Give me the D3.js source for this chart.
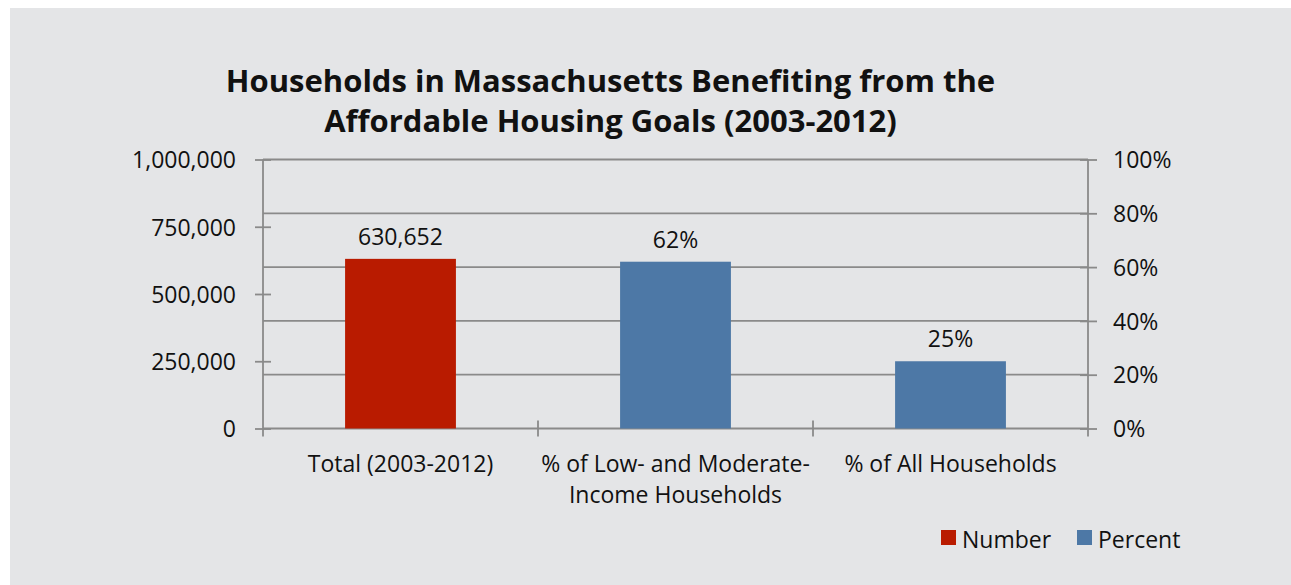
<!DOCTYPE html>
<html>
<head>
<meta charset="utf-8">
<script src="https://cdn.jsdelivr.net/npm/d3@7"></script>
<style>
  body { margin: 0; background: #fff; }
  svg text { font-family: "Open Sans", "Noto Sans", sans-serif; fill: #111; }
</style>
</head>
<body>
<div id="chart"></div>
<script>
// data
const categories = ["Total (2003-2012)", "% of Low- and Moderate-\nIncome Households", "% of All Households"];
const series = ["Number", "Percent"];
const seriesOf = ["Number", "Percent", "Percent"];
const values = [630652, 0.62, 0.25];
const valueLabels = ["630,652", "62%", "25%"];
const leftTicks = [0, 250000, 500000, 750000, 1000000];
const rightTicks = [0, 0.2, 0.4, 0.6, 0.8, 1.0];
const titleLines = ["Households in Massachusetts Benefiting from the", "Affordable Housing Goals (2003-2012)"];

const colors = { Number: "#b91b00", Percent: "#4d78a6" };
const gridColor = "#8a8a8a";
const fontSize = "23px";

const W = 1291, H = 585;
const plot = { left: 263, right: 1088, top: 159.5, bottom: 428.5 };

const svg = d3.select("#chart").append("svg")
    .attr("width", W)
    .attr("height", H);

// background panel
svg.append("rect")
   .attr("x", 10).attr("y", 8)
   .attr("width", W - 10).attr("height", H - 8)
   .attr("fill", "#e4e5e7");

const x = d3.scaleBand()
    .domain(categories)
    .range([plot.left, plot.right])
    .paddingInner(0.597)
    .paddingOuter(0.2985);

const yLeft = d3.scaleLinear().domain([0, 1000000]).range([plot.bottom, plot.top]);
const yRight = d3.scaleLinear().domain([0, 1]).range([plot.bottom, plot.top]);

// gridlines from the right axis
svg.append("g")
   .selectAll("line")
   .data(rightTicks)
   .join("line")
   .attr("x1", plot.left).attr("x2", plot.right)
   .attr("y1", d => yRight(d)).attr("y2", d => yRight(d))
   .attr("stroke", gridColor).attr("stroke-width", 1.8);

// left axis
const leftAxis = svg.append("g")
   .attr("transform", `translate(${plot.left},0)`)
   .call(d3.axisLeft(yLeft).tickValues(leftTicks).tickFormat(d3.format(",")).tickSizeInner(8).tickSizeOuter(0));
leftAxis.select(".domain").remove();
leftAxis.append("line")
   .attr("y1", plot.top).attr("y2", plot.bottom + 8)
   .attr("stroke", gridColor).attr("stroke-width", 1.8);
leftAxis.selectAll(".tick line").attr("x2", -8).attr("x1", 8).attr("stroke", gridColor).attr("stroke-width", 1.8);
leftAxis.selectAll(".tick text").style("font-size", fontSize).attr("dy", "0.36em").attr("x", -27);

// right axis
const rightAxis = svg.append("g")
   .attr("transform", `translate(${plot.right},0)`)
   .call(d3.axisRight(yRight).tickValues(rightTicks).tickFormat(d3.format(".0%")).tickSizeInner(8).tickSizeOuter(0));
rightAxis.select(".domain").remove();
rightAxis.append("line")
   .attr("y1", plot.top).attr("y2", plot.bottom + 8)
   .attr("stroke", gridColor).attr("stroke-width", 1.8);
rightAxis.selectAll(".tick line").attr("x1", -8).attr("x2", 9).attr("stroke", gridColor).attr("stroke-width", 1.8);
rightAxis.selectAll(".tick text").style("font-size", fontSize).attr("dy", "0.36em").attr("x", 25);

// category axis: ticks at band boundaries
const bounds = categories.map(c => x(c) - x.step() * x.paddingOuter()).concat([plot.right]);
svg.append("g")
   .selectAll("line")
   .data(bounds.slice(1, -1))
   .join("line")
   .attr("x1", d => d).attr("x2", d => d)
   .attr("y1", plot.bottom - 8).attr("y2", plot.bottom + 8)
   .attr("stroke", gridColor).attr("stroke-width", 1.8);

const catLabels = svg.append("g")
   .selectAll("text")
   .data(categories)
   .join("text")
   .attr("x", d => x(d) + x.bandwidth() / 2)
   .attr("y", 472)
   .attr("text-anchor", "middle")
   .style("font-size", fontSize);
catLabels.each(function(d) {
    d.split("\n").forEach((ln, i) => {
        d3.select(this).append("tspan")
          .attr("x", x(d) + x.bandwidth() / 2)
          .attr("dy", i === 0 ? 0 : 31)
          .text(ln);
    });
});

// bars
const yFor = (v, i) => seriesOf[i] === "Number" ? yLeft(v) : yRight(v);
svg.append("g")
   .selectAll("rect")
   .data(values)
   .join("rect")
   .attr("x", (d, i) => x(categories[i]))
   .attr("width", x.bandwidth())
   .attr("y", (d, i) => yFor(d, i))
   .attr("height", (d, i) => plot.bottom - yFor(d, i))
   .attr("fill", (d, i) => colors[seriesOf[i]]);

// value labels
svg.append("g")
   .selectAll("text")
   .data(values)
   .join("text")
   .attr("x", (d, i) => x(categories[i]) + x.bandwidth() / 2)
   .attr("y", (d, i) => yFor(d, i) - 14)
   .attr("text-anchor", "middle")
   .style("font-size", fontSize)
   .text((d, i) => valueLabels[i]);

// title
svg.append("g")
   .selectAll("text")
   .data(titleLines)
   .join("text")
   .attr("x", 610.5)
   .attr("y", (d, i) => 92 + i * 39.5)
   .attr("text-anchor", "middle")
   .style("font-size", "31px")
   .style("font-weight", "bold")
   .text(d => d);

// legend
const legend = svg.append("g")
   .selectAll("g")
   .data(series)
   .join("g")
   .attr("transform", (d, i) => `translate(${941 + i * 136},530)`);
legend.append("rect")
   .attr("width", 15).attr("height", 15)
   .attr("fill", d => colors[d]);
legend.append("text")
   .attr("x", 21).attr("y", 18)
   .style("font-size", fontSize)
   .text(d => d);
</script>
</body>
</html>
